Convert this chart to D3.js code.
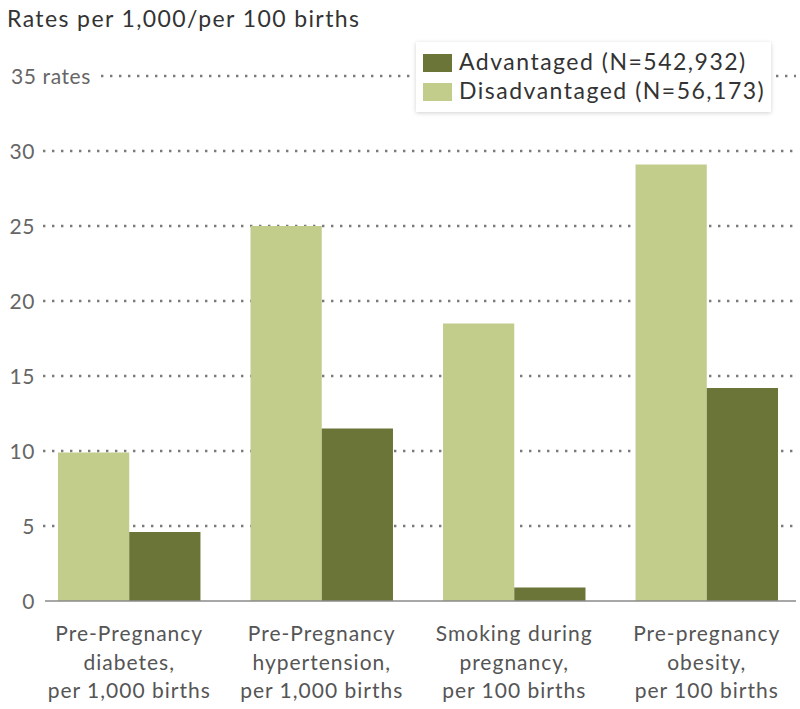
<!DOCTYPE html>
<html><head><meta charset="utf-8">
<script src="https://cdn.jsdelivr.net/npm/d3@7"></script>
<style>body{margin:0;background:#fff;} svg{display:block;font-family:Lato,"Open Sans",sans-serif;}</style>
</head><body><svg id="c" width="800" height="709"></svg>
<script>
const categories = ["Pre-Pregnancy diabetes", "Pre-Pregnancy hypertension", "Smoking during pregnancy", "Pre-pregnancy obesity"];
const categoryLines = [
  ["Pre-Pregnancy", "diabetes,", "per 1,000 births"],
  ["Pre-Pregnancy", "hypertension,", "per 1,000 births"],
  ["Smoking during", "pregnancy,", "per 100 births"],
  ["Pre-pregnancy", "obesity,", "per 100 births"]
];
const seriesNames = ["Disadvantaged", "Advantaged"];
const disadvantaged = [9.9, 25.0, 18.5, 29.1];
const advantaged = [4.6, 11.5, 0.9, 14.2];
const yTicks = [0, 5, 10, 15, 20, 25, 30, 35];
const tickLabels = ["0", "5", "10", "15", "20", "25", "30", "35 rates"];
const legendLabels = ["Advantaged (N=542,932)", "Disadvantaged (N=56,173)"];
const title = "Rates per 1,000/per 100 births";

const colors = {Disadvantaged: "#c2cc8b", Advantaged: "#6b7537"};
const svg = d3.select("#c");

const y = d3.scaleLinear().domain([0, 35]).range([601, 76]);
const x0 = d3.scaleBand().domain(categories).range([58, 778]).paddingInner(0.26).paddingOuter(0);
const x1 = d3.scaleBand().domain(seriesNames).range([0, x0.bandwidth()]);

// title
svg.append("text").attr("x", 7).attr("y", 27).attr("font-size", 23).attr("letter-spacing", 1.4).attr("fill", "#333").text(title);

// gridlines
const grid = svg.append("g");
yTicks.forEach((t, i) => {
  if (t === 0) return;
  const gx = i === yTicks.length - 1 ? 101 : 43;
  grid.append("line").attr("x1", gx).attr("x2", 796).attr("y1", y(t)).attr("y2", y(t))
    .attr("stroke", "#7a7a7a").attr("stroke-width", 2.6).attr("stroke-dasharray", "2.4,6.6");
});
// tick labels
yTicks.forEach((t, i) => {
  const last = i === yTicks.length - 1;
  svg.append("text").attr("x", last ? 91 : 35).attr("y", y(t)).attr("dy", "0.36em")
    .attr("text-anchor", "end").attr("font-size", 21).attr("letter-spacing", 0.6).attr("fill", "#666").text(tickLabels[i]);
});

// bars
const groups = svg.append("g").selectAll("g").data(categories).join("g")
  .attr("transform", d => `translate(${x0(d)},0)`);
groups.selectAll("rect").data((d, i) => [
  {s: "Disadvantaged", v: disadvantaged[i]},
  {s: "Advantaged", v: advantaged[i]}
]).join("rect")
  .attr("x", d => x1(d.s)).attr("width", x1.bandwidth())
  .attr("y", d => y(d.v)).attr("height", d => y(0) - y(d.v))
  .attr("fill", d => colors[d.s]);

// baseline
svg.append("line").attr("x1", 45).attr("x2", 796).attr("y1", y(0)).attr("y2", y(0))
  .attr("stroke", "#8a8a8a").attr("stroke-width", 1.6);

// category labels
categories.forEach((c, i) => {
  const cx = x0(c) + x0.bandwidth() / 2;
  const t = svg.append("text").attr("text-anchor", "middle").attr("font-size", 21).attr("letter-spacing", 1).attr("fill", "#555");
  categoryLines[i].forEach((l, j) => {
    t.append("tspan").attr("x", cx).attr("y", 641 + j * 28.5).text(l);
  });
});

// legend
const defs = svg.append("defs");
const f = defs.append("filter").attr("id", "sh").attr("x", "-10%").attr("y", "-20%").attr("width", "120%").attr("height", "150%");
f.append("feDropShadow").attr("dx", 0).attr("dy", 1).attr("stdDeviation", 2).attr("flood-color", "#000").attr("flood-opacity", 0.18);
const lg = svg.append("g");
lg.append("rect").attr("x", 416).attr("y", 42).attr("width", 355).attr("height", 70).attr("fill", "#fff").attr("filter", "url(#sh)");
const legendSeries = ["Advantaged", "Disadvantaged"];
legendSeries.forEach((s, i) => {
  lg.append("rect").attr("x", 423).attr("y", 54 + i * 29).attr("width", 29).attr("height", 18).attr("fill", colors[s]);
  lg.append("text").attr("x", 459).attr("y", 70 + i * 28.5).attr("font-size", 23).attr("letter-spacing", 1.5).attr("fill", "#333").text(legendLabels[i]);
});
</script></body></html>
